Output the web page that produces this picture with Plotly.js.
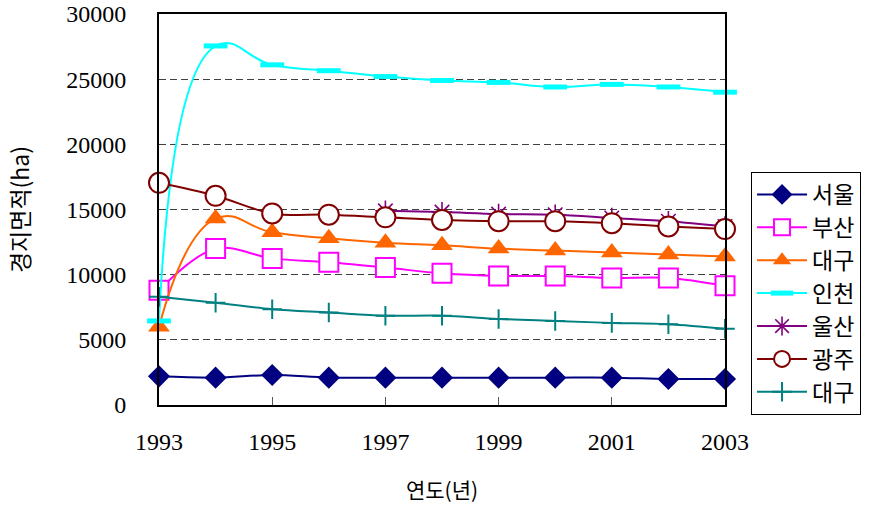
<!DOCTYPE html>
<html>
<head>
<meta charset="utf-8">
<script src="https://cdn.plot.ly/plotly-3.0.1.min.js"></script>
<style>html,body{margin:0;padding:0;background:#fff;}#chart{width:880px;height:513px;}</style>
</head>
<body>
<div id="chart"></div>
<script>
const years = [1993, 1994, 1995, 1996, 1997, 1998, 1999, 2000, 2001, 2002, 2003];
const xTicks = [1993, 1995, 1997, 1999, 2001, 2003];
const yTicks = [0, 5000, 10000, 15000, 20000, 25000, 30000];
const seriesNames = ['서울', '부산', '대구', '인천', '울산', '광주', '대구'];
const seoul   = [2200, 2100, 2300, 2100, 2100, 2100, 2100, 2100, 2100, 2000, 2000];
const busan   = [8800, 12000, 11250, 10950, 10550, 10100, 9900, 9900, 9750, 9750, 9150];
const daegu   = [6000, 14300, 13250, 12800, 12450, 12250, 12000, 11850, 11700, 11550, 11400];
const incheon = [6450, 27550, 26100, 25650, 25200, 24900, 24750, 24400, 24600, 24400, 24000];
const ulsan   = [null, null, null, null, 14900, 14800, 14650, 14600, 14350, 14100, 13700];
const gwangju = [17050, 16050, 14700, 14600, 14400, 14200, 14100, 14100, 13950, 13700, 13500];
const daegu2  = [8300, 7850, 7350, 7100, 6850, 6850, 6600, 6450, 6300, 6200, 5850];

const values = [seoul, busan, daegu, incheon, ulsan, gwangju, daegu2];
const styles = [
  {color: '#000080', smooth: 1, marker: {symbol: 'diamond', size: 17, color: '#000080', line: {width: 0}}},
  {color: '#FF00FF', smooth: 1, marker: {symbol: 'square', size: 19, color: '#FFFFFF', line: {color: '#FF00FF', width: 2}}},
  {color: '#FF6600', smooth: 1.3, marker: {symbol: 'triangle-up', size: 19, color: '#FF6600', line: {width: 0}}},
  {color: '#00FFFF', smooth: 1.3, marker: {symbol: 'line-ew', size: 17, color: '#00FFFF', line: {color: '#00FFFF', width: 5}}},
  {color: '#800080', smooth: 1, marker: {symbol: 'asterisk-open', size: 17, color: '#800080', line: {color: '#800080', width: 1.6}}},
  {color: '#800000', smooth: 1, marker: {symbol: 'circle', size: 20, color: '#FFFFFF', line: {color: '#800000', width: 2}}},
  {color: '#008080', smooth: 1, marker: {symbol: 'cross-thin-open', size: 14, color: '#008080', line: {color: '#008080', width: 2}}}
];

const traces = values.map((v, i) => ({
  type: 'scatter',
  mode: 'lines+markers',
  name: seriesNames[i],
  x: years,
  y: v,
  connectgaps: false,
  cliponaxis: false,
  line: {color: styles[i].color, width: 2, shape: 'spline', smoothing: styles[i].smooth},
  marker: styles[i].marker
}));

const layout = {
  width: 880,
  height: 513,
  margin: {l: 159, r: 155, t: 14, b: 108, autoexpand: false},
  paper_bgcolor: '#FFFFFF',
  plot_bgcolor: '#FFFFFF',
  showlegend: true,
  legend: {
    x: 1.046, xanchor: 'left', y: 0.596, yanchor: 'top',
    bgcolor: '#FFFFFF', bordercolor: '#000000', borderwidth: 1,
    font: {family: 'Noto Sans CJK KR', size: 23, color: '#000000'},
    itemwidth: 50
  },
  xaxis: {
    range: [1993, 2003],
    tickmode: 'array',
    tickvals: xTicks,
    ticktext: xTicks.map(String),
    ticks: 'inside',
    ticklen: 8,
    tickwidth: 1,
    tickcolor: '#555555',
    ticklabelstandoff: 14,
    showgrid: false,
    zeroline: false,
    showline: true,
    linecolor: '#000000',
    linewidth: 2,
    mirror: true,
    tickfont: {family: 'Liberation Serif', size: 24, color: '#000000'},
    title: {text: '연도(년)', font: {family: 'Noto Sans CJK KR', size: 21, color: '#000000'}, standoff: 30}
  },
  yaxis: {
    range: [0, 30000],
    tickmode: 'array',
    tickvals: yTicks,
    ticktext: yTicks.map(String),
    ticks: '',
    ticklabelstandoff: 26,
    showgrid: true,
    gridcolor: '#404040',
    gridwidth: 1,
    griddash: '7px,4px',
    zeroline: false,
    showline: true,
    linecolor: '#000000',
    linewidth: 2,
    mirror: true,
    tickfont: {family: 'Liberation Serif', size: 24, color: '#000000'},
    title: {text: '경지면적(ha)', font: {family: 'Noto Sans CJK KR', size: 23, color: '#000000'}, standoff: 30}
  }
};

Plotly.newPlot('chart', traces, layout, {staticPlot: true, displayModeBar: false});
</script>
</body>
</html>
